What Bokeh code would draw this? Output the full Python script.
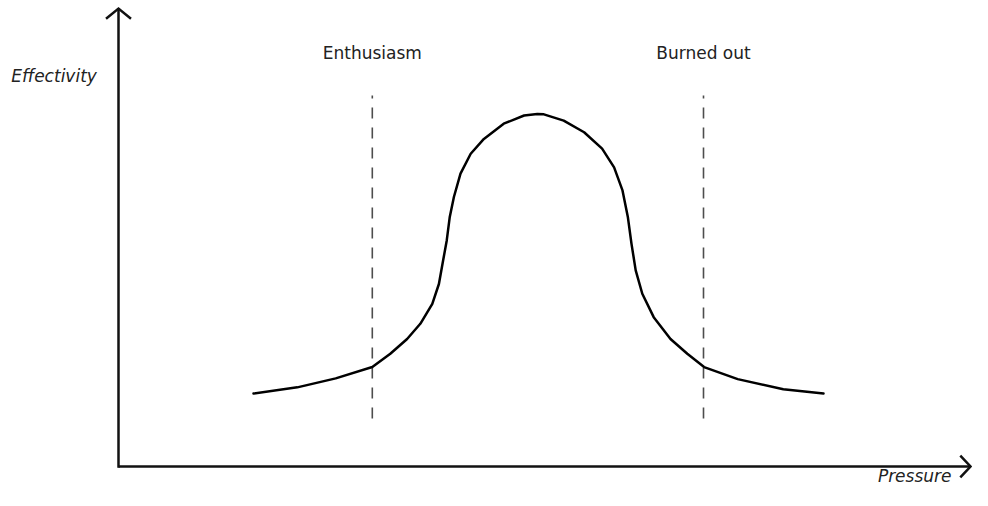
from bokeh.plotting import figure
from bokeh.models import Range1d, Label
from bokeh.embed import file_html
from bokeh.resources import INLINE

# Pressure (x) vs Effectivity (y), arbitrary units
pressure = [2.25, 2.98, 3.62, 4.23, 4.53, 4.81, 5.03, 5.23, 5.34, 5.41, 5.47, 5.52, 5.59, 5.70,
            5.87, 6.09, 6.42, 6.76, 6.98, 7.09, 7.42, 7.76, 8.06, 8.26, 8.40, 8.49, 8.55,
            8.62, 8.73, 8.92, 9.20, 9.48, 9.76, 10.32, 11.08, 11.75]
effectivity = [1.87, 2.03, 2.26, 2.55, 2.89, 3.27, 3.66, 4.17, 4.68, 5.28, 5.79, 6.39, 6.91, 7.51,
               8.02, 8.40, 8.79, 9.00, 9.04, 9.03, 8.87, 8.57, 8.15, 7.67, 7.08, 6.39, 5.71,
               5.03, 4.43, 3.83, 3.27, 2.89, 2.55, 2.24, 1.98, 1.87]

phase_names = ["Enthusiasm", "Burned out"]
phase_x = [4.23, 9.75]
phase_y_bottom = 1.23
phase_y_top = 9.51

x_axis_end = 14.2
y_axis_end = 11.74

p = figure(width=972, height=490, output_backend="svg", toolbar_location=None,
           x_range=Range1d(-1.9667, 14.2333), y_range=Range1d(-0.615, 11.949),
           min_border=0)
p.axis.visible = False
p.grid.visible = False
p.outline_line_color = None
p.background_fill_color = "white"
p.border_fill_color = "white"

# dashed phase markers
p.segment(x0=phase_x, y0=[phase_y_bottom] * 2, x1=phase_x, y1=[phase_y_top] * 2,
          line_color="#4d4d4d", line_width=1.6, line_dash="11 9")

# curve
p.line(pressure, effectivity, line_color="black", line_width=2.5, line_join="round", line_cap="round")

# axes with open arrowheads
axis_color = "#111111"
p.line([0, 0], [-0.03, y_axis_end], line_color=axis_color, line_width=2.5)
p.line([0, x_axis_end], [0, 0], line_color=axis_color, line_width=2.5)
p.line([-0.208, 0, 0.208], [y_axis_end - 0.26, y_axis_end, y_axis_end - 0.26],
       line_color=axis_color, line_width=2.5, line_join="miter")
p.line([x_axis_end - 0.17, x_axis_end, x_axis_end - 0.17], [0.28, 0, -0.28],
       line_color=axis_color, line_width=2.5, line_join="miter")

font = "DejaVu Sans"
for name, xv in zip(phase_names, phase_x):
    p.add_layout(Label(x=xv, y=10.60, text=name, text_align="center", text_baseline="alphabetic",
                       text_font=font, text_font_size="17px", text_color="#222222"))

p.add_layout(Label(x=-1.075, y=10.02, text="Effectivity", text_align="center",
                   text_baseline="alphabetic", text_font=font, text_font_style="italic",
                   text_font_size="17px", text_color="#222222"))
p.add_layout(Label(x=13.27, y=-0.25, text="Pressure", text_align="center",
                   text_baseline="alphabetic", text_font=font, text_font_style="italic",
                   text_font_size="17px", text_color="#222222"))

open("out.html", "w").write(file_html(p, INLINE))
